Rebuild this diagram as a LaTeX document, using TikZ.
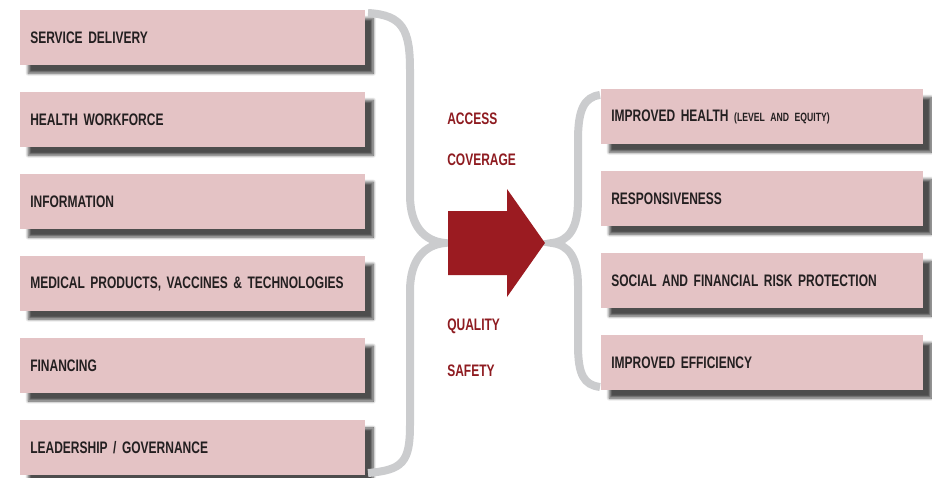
\documentclass[tikz,border=0pt]{standalone}
\usepackage{fontspec}
\setmainfont{Liberation Sans}[FakeStretch=0.72]
\usetikzlibrary{positioning}
\usetikzlibrary{shadows.blur}
\hyphenpenalty=10000

\definecolor{boxpink}{HTML}{E4C3C5}
\definecolor{bracegray}{HTML}{CBCCCE}
\definecolor{arrowred}{HTML}{9B1B21}
\definecolor{labelred}{HTML}{8E1B20}
\definecolor{textdark}{HTML}{231F20}

\tikzset{
  blockbox/.style={rectangle, fill=boxpink, anchor=north west,
    minimum width=258.75pt, minimum height=41.25pt, inner sep=7.5pt,
    text width=243.75pt, align=left, text=textdark,
    font=\fontsize{12.5}{14}\selectfont\bfseries,
    blur shadow={shadow xshift=6pt, shadow yshift=-6pt, shadow blur steps=8, shadow opacity=70}},
  goalbox/.style={blockbox, minimum width=241.5pt, text width=226.5pt},
  goal/.style={text=labelred, anchor=west, inner sep=0pt,
    font=\fontsize{12.5}{14}\selectfont\bfseries},
  brace/.style={draw=bracegray, line width=6pt}
}

\begin{document}
\begin{tikzpicture}[x=0.75pt, y=-0.75pt]
  \useasboundingbox (0,0) rectangle (932,478);

  % building blocks
  \node(b1)[blockbox] at (20,10){SERVICE DELIVERY};
  \node(b2)[blockbox, below=19.8pt of b1]{HEALTH WORKFORCE};
  \node(b3)[blockbox, below=19.8pt of b2]{INFORMATION};
  \node(b4)[blockbox, below=19.8pt of b3]{\mbox{MEDICAL PRODUCTS, VACCINES \& TECHNOLOGIES}};
  \node(b5)[blockbox, below=19.8pt of b4]{FINANCING};
  \node(b6)[blockbox, below=19.8pt of b5]{LEADERSHIP / GOVERNANCE};

  % outcomes
  \node(o1)[goalbox] at (601,89){IMPROVED HEALTH {\fontsize{9}{10}\selectfont(LEVEL AND EQUITY)}};
  \node(o2)[goalbox, below=19.8pt of o1]{RESPONSIVENESS};
  \node(o3)[goalbox, below=19.8pt of o2]{SOCIAL AND FINANCIAL RISK PROTECTION};
  \node(o4)[goalbox, below=19.8pt of o3]{IMPROVED EFFICIENCY};

  % goals
  \node(acc)[goal] at (447,119){ACCESS};
  \node(cov)[goal] at (447,160){COVERAGE};
  \node(qual)[goal] at (447,326){QUALITY};
  \node(saf)[goal] at (447,371){SAFETY};

  % braces
  \draw[brace] (368,13) .. controls (403,15) and (410,30) .. (410,70) -- (410,195)
    .. controls (410,226) and (424,241) .. (445,243)
    .. controls (424,245) and (410,260) .. (410,291) -- (410,425)
    .. controls (410,462) and (403,470) .. (368,473);
  \draw[brace] (600,95) .. controls (584,97) and (578,110) .. (578,140) -- (578,200)
    .. controls (578,228) and (569,241) .. (552,243)
    .. controls (569,245) and (578,258) .. (578,286) -- (578,345)
    .. controls (578,375) and (584,385) .. (600,387);

  % arrow
  \fill[arrowred] (448,211) -- (507,211) -- (507,189) -- (545,243)
    -- (507,297) -- (507,275) -- (448,275) -- cycle;

\end{tikzpicture}
\end{document}
